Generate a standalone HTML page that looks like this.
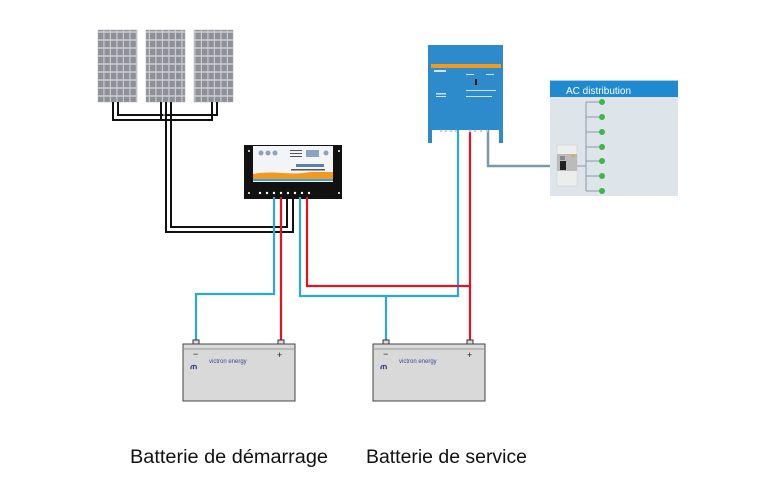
<!DOCTYPE html>
<html><head><meta charset="utf-8"><style>
html,body{margin:0;padding:0;background:#fff;}
svg{display:block;}
</style></head><body>
<svg width="758" height="494" viewBox="0 0 758 494" xmlns="http://www.w3.org/2000/svg" font-family="Liberation Sans, sans-serif">
<defs>
<pattern id="cells" x="0" y="0" width="6.5" height="8" patternUnits="userSpaceOnUse">
<rect width="6.5" height="8" fill="#c9cbcf"/>
<rect x="0.5" y="0.8" width="5.3" height="6.4" fill="#8d9096"/>
</pattern>
</defs>
<!-- solar panels -->
<rect x="98" y="30" width="39" height="72" fill="url(#cells)" stroke="#aaa" stroke-width="0.5"/>
<rect x="146" y="30" width="39" height="72" fill="url(#cells)" stroke="#aaa" stroke-width="0.5"/>
<rect x="194" y="30" width="39" height="72" fill="url(#cells)" stroke="#aaa" stroke-width="0.5"/>
<!-- black wires -->
<g fill="none" stroke="#111" stroke-width="2">
<path d="M113 102 V120 H212 V102"/>
<path d="M118 102 V115 H217 V102"/>
<path d="M161 102 V120"/>
<path d="M166 102 V232 H293 V197"/>
<path d="M171 102 V227 H287 V197"/>
</g>
<g fill="none" stroke="#fff" stroke-width="1">
<path d="M164 103 V118"/>
</g>
<!-- controller -->
<rect x="244" y="145" width="98" height="54" fill="#111"/>
<rect x="253" y="146" width="80" height="36" fill="#f2f4f7"/>
<path d="M253 174 C275 170 290 176 310 172 L333 172 L333 179 L253 179 Z" fill="#f39a1e"/>
<rect x="253" y="179" width="80" height="2" fill="#3aa0d8"/>
<circle cx="261" cy="153" r="2.5" fill="#8aa4bf"/><circle cx="268" cy="153" r="2.5" fill="#8aa4bf"/><circle cx="275" cy="153" r="2.5" fill="#8aa4bf"/>
<rect x="306" y="150" width="13" height="7" fill="#8aa4bf"/>
<circle cx="326" cy="153" r="2.5" fill="#8aa4bf"/>
<rect x="290" y="150" width="12" height="1" fill="#555"/><rect x="290" y="153" width="12" height="1" fill="#555"/><rect x="290" y="156" width="12" height="1" fill="#555"/>
<rect x="296" y="164" width="28" height="3" fill="#5a7fae"/>
<rect x="291" y="169" width="34" height="1.5" fill="#555"/>
<g fill="#fff"><circle cx="260" cy="193" r="1.2"/><circle cx="267" cy="193" r="1.2"/><circle cx="274" cy="193" r="1.2"/><circle cx="281" cy="193" r="1.2"/><circle cx="288" cy="193" r="1.2"/><circle cx="295" cy="193" r="1.2"/><circle cx="302" cy="193" r="1.2"/><circle cx="309" cy="193" r="1.2"/>
<circle cx="249" cy="151" r="1"/><circle cx="339" cy="151" r="1"/><circle cx="249" cy="193" r="1"/><circle cx="339" cy="193" r="1"/></g>
<!-- colored wires -->
<g fill="none" stroke-width="2.2">
<path d="M274 197 V294 H196 V343" stroke="#2aa6e0"/>
<path d="M281 197 V343" stroke="#e3141f"/>
<path d="M300 197 V296 H458 V130" stroke="#2aa6e0"/>
<path d="M386 296 V343" stroke="#2aa6e0"/>
<path d="M307 197 V286 H470 V343" stroke="#e3141f"/>
<path d="M470 286 V130" stroke="#e3141f"/>
<path d="M488 130 V166 H551" stroke="#7d97a8" stroke-width="2.5"/>
</g>
<!-- multiplus -->
<rect x="428" y="45" width="75" height="85" fill="#2d8acb"/>
<rect x="428" y="128" width="4" height="15" fill="#2d8acb"/>
<rect x="499" y="128" width="4" height="15" fill="#2d8acb"/>
<rect x="431" y="64" width="70" height="4" fill="#f39a1e"/>
<g fill="#cfe3f3"><rect x="434" y="70" width="12" height="2"/><rect x="466" y="74" width="8" height="1"/><rect x="486" y="74" width="8" height="1"/><rect x="436" y="93" width="10" height="1.5"/><rect x="436" y="96" width="10" height="1"/><rect x="466" y="90" width="30" height="1"/><rect x="466" y="96" width="26" height="1"/></g>
<rect x="475" y="79" width="2" height="6" fill="#111"/>
<g fill="#bcd2e2"><circle cx="441" cy="131" r="1.3"/><circle cx="446" cy="131" r="1.3"/><circle cx="451" cy="131" r="1.3"/><circle cx="456" cy="131" r="1.3"/><circle cx="470" cy="131" r="1.3"/><circle cx="475" cy="131" r="1.3"/><circle cx="481" cy="131" r="1.3"/><circle cx="487" cy="131" r="1.3"/></g>
<!-- AC distribution -->
<rect x="550" y="80" width="128" height="116" fill="#dde4ea"/>
<rect x="550" y="80" width="128" height="17" fill="#1f8ad0"/>
<rect x="550" y="80" width="128" height="1" fill="#fff" opacity="0.6"/>
<text x="566" y="94" font-size="10" fill="#fff">AC distribution</text>
<rect x="557" y="145" width="20" height="41" fill="#eceeee" stroke="#ccc" stroke-width="0.5"/>
<rect x="557" y="154" width="20" height="17" fill="#bbb"/>
<rect x="560" y="156" width="5" height="4" fill="#888"/>
<rect x="560" y="161" width="6" height="9" fill="#222"/>
<rect x="571" y="155" width="4" height="1.5" fill="#f39a1e"/>
<g stroke="#8b9aa6" stroke-width="1" fill="none">
<path d="M577 166 H586"/>
<path d="M586 102 V191"/>
<path d="M586 102 H602 M586 117 H602 M586 132 H602 M586 147 H602 M586 161 H602 M586 176 H602 M586 191 H602"/>
</g>
<g fill="#3db549"><circle cx="602" cy="102" r="3"/><circle cx="602" cy="117" r="3"/><circle cx="602" cy="132" r="3"/><circle cx="602" cy="147" r="3"/><circle cx="602" cy="161" r="3"/><circle cx="602" cy="176" r="3"/><circle cx="602" cy="191" r="3"/></g>
<!-- batteries -->
<g>
<rect x="193" y="340" width="6" height="4" fill="#ddd" stroke="#333" stroke-width="1"/>
<rect x="278" y="340" width="6" height="4" fill="#ddd" stroke="#333" stroke-width="1"/>
<rect x="183" y="344" width="112" height="57" fill="#d9d9d9" stroke="#444" stroke-width="1"/>
<line x1="183" y1="349" x2="295" y2="349" stroke="#999"/>
<text x="193" y="357" font-size="9" fill="#222">−</text><text x="277" y="358" font-size="9" fill="#222">+</text>
<text x="190" y="369" font-size="9" fill="#3b4b8e" font-weight="bold">ጠ</text>
<text x="209" y="363" font-size="6" fill="#3b4b8e">victron  energy</text>
<rect x="383" y="340" width="6" height="4" fill="#ddd" stroke="#333" stroke-width="1"/>
<rect x="467" y="340" width="6" height="4" fill="#ddd" stroke="#333" stroke-width="1"/>
<rect x="373" y="344" width="112" height="57" fill="#d9d9d9" stroke="#444" stroke-width="1"/>
<line x1="373" y1="349" x2="485" y2="349" stroke="#999"/>
<text x="383" y="357" font-size="9" fill="#222">−</text><text x="467" y="358" font-size="9" fill="#222">+</text>
<text x="380" y="369" font-size="9" fill="#3b4b8e" font-weight="bold">ጠ</text>
<text x="399" y="363" font-size="6" fill="#3b4b8e">victron  energy</text>
</g>
<text x="130" y="463" font-size="19" fill="#111" textLength="198" lengthAdjust="spacingAndGlyphs">Batterie de démarrage</text>
<text x="366" y="463" font-size="19" fill="#111" textLength="161" lengthAdjust="spacingAndGlyphs">Batterie de service</text>
</svg>
</body></html>
